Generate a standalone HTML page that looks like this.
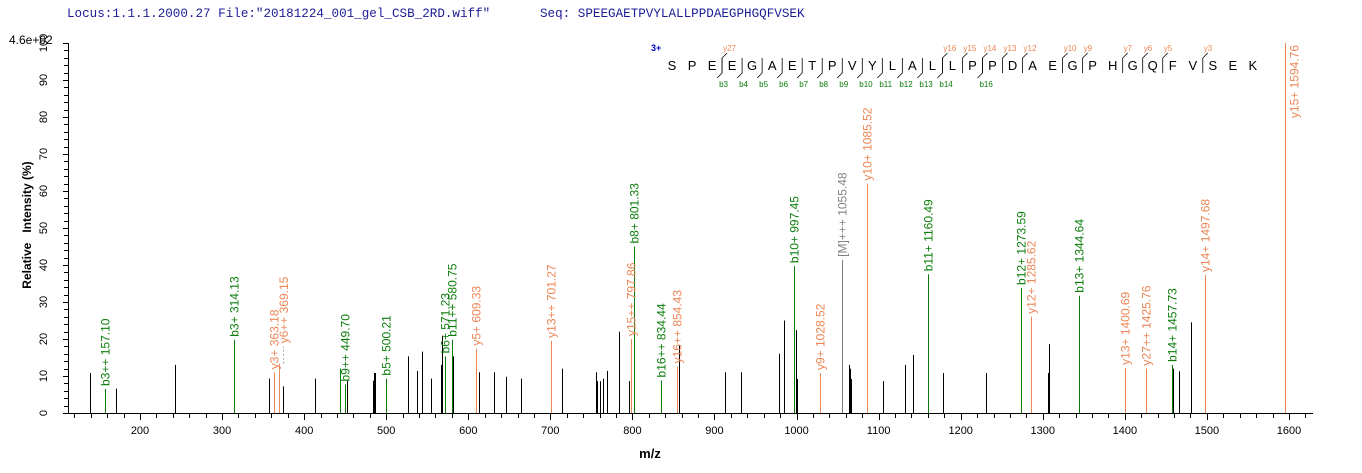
<!DOCTYPE html>
<html><head><meta charset="utf-8"><style>
html,body{margin:0;padding:0;background:#fff;}
svg{display:block;font-family:"Liberation Sans",Arial,sans-serif;}
</style></head><body>
<svg id="s" width="1362" height="473" xmlns="http://www.w3.org/2000/svg">
<text x="67" y="17" font-family="Liberation Mono,monospace" font-size="12.6" fill="#1c1c96">Locus:1.1.1.2000.27 File:"20181224_001_gel_CSB_2RD.wiff"</text>
<text x="540" y="17" font-family="Liberation Mono,monospace" font-size="12.6" fill="#1c1c96">Seq: SPEEGAETPVYLALLPPDAEGPHGQFVSEK</text>
<text x="9" y="44" font-size="12" fill="#000">4.6e+02</text>
<text transform="translate(31,225) rotate(-90)" text-anchor="middle" font-size="12" font-weight="bold" style="white-space:pre">Relative   Intensity (%)</text>
<text x="650" y="458" text-anchor="middle" font-size="13" font-weight="bold">m/z</text>
<g id="axes" stroke="#000" stroke-width="1" fill="none"></g>
<g id="peaks"></g>
<g id="seq"></g>
</svg>
<script>
var NS="http://www.w3.org/2000/svg",S=document.getElementById('s');
function el(t,a,p,txt){var e=document.createElementNS(NS,t);for(var k in a)e.setAttribute(k,a[k]);if(txt!==undefined)e.textContent=txt;(p||S).appendChild(e);return e;}
var ax=document.getElementById('axes'),pk=document.getElementById('peaks'),sq=document.getElementById('seq');
function X(m){return 140+(m-200)*0.8207;}
function Y(p){return 413-p*3.7;}
el('line',{x1:63,y1:413.5,x2:1313,y2:413.5},ax);
el('line',{x1:68.5,y1:43,x2:68.5,y2:413},ax);
for(var m=120;m<=1620;m+=20){var x=Math.round(X(m))+0.5;el('line',{x1:x,y1:413,x2:x,y2:(m%100==0?420:418)},ax);}
for(var m=200;m<=1600;m+=100){el('text',{x:X(m),y:434,'text-anchor':'middle','font-size':11,fill:'#000'},S,''+m);}
for(var p=0;p<=100;p+=2){var y=Math.round(Y(p))+0.5;el('line',{x1:(p%10==0?63:64),y1:y,x2:68,y2:y},ax);}
for(var p=0;p<=100;p+=10){el('text',{transform:'translate(47,'+Y(p)+') rotate(-90)','text-anchor':'middle','font-size':11,fill:'#000'},S,''+p);}
var blk=[[90,10.8],[116,6.6],[175,13],[269,9.3],[283,7.2],[315,9.3],[347,8.7],[373,8.7],[374,10.8],[375,10.8],[408,15.3],[417,11.4],[422,16.6],[431,9.3],[441,13],[442,20.9],[445,10.8],[453,15.3],[479,11],[494,11],[506,9.8],[521,9.3],[562,12],[596,11],[597,8.6],[600,8.6],[603,9.3],[607,11.4],[619,22],[629,8.6],[679,18.2],[725,11],[741,11],[779,16],[784,25],[796,22.4],[797,9.2],[849,13],[850,12],[851,9.2],[883,8.6],[905,13],[913,15.7],[928,17.6],[943,10.8],[986,10.8],[1048,10.8],[1049,18.6],[1173,12],[1179,11.3],[1191,24.5]];
blk.forEach(function(b){var x=b[0]+0.5;el('line',{x1:x,y1:413,x2:x,y2:Y(b[1]),stroke:'#000','stroke-width':1},pk);});
var G='#0a7d0a',O='#ec8555',GR='#808080';
var lab=[[157.10,6.5,G,'b3++ 157.10'],[314.13,19.8,G,'b3+ 314.13'],[443.18,12,G,''],[449.70,7.7,G,'b9++ 449.70'],[500.21,9.3,G,'b5+ 500.21'],[571.23,15.3,G,'b6+ 571.23'],[580.75,19.8,G,'b11++ 580.75'],[801.33,45,G,'b8+ 801.33'],[834.44,8.8,G,'b16++ 834.44'],[997.45,39.7,G,'b10+ 997.45'],[1160.49,37.5,G,'b11+ 1160.49'],[1273.59,33.8,G,'b12+ 1273.59'],[1344.64,31.7,G,'b13+ 1344.64'],[1457.73,13,G,'b14+ 1457.73'],
[363.18,11,O,'y3+ 363.18'],[369.15,13.3,O,''],[609.33,17.4,O,'y5+ 609.33'],[701.27,19.5,O,'y13++ 701.27'],[797.86,20,O,'y15++ 797.86'],[854.43,12.6,O,'y16++ 854.43'],[1028.52,10.8,O,'y9+ 1028.52'],[1085.52,62,O,'y10+ 1085.52'],[1285.62,26,O,'y12+ 1285.62'],[1400.69,12.2,O,'y13+ 1400.69'],[1425.76,12,O,'y27++ 1425.76'],[1497.68,37.3,O,'y14+ 1497.68'],[1055.48,41.4,GR,'[M]+++ 1055.48']];
lab.forEach(function(l){var x=Math.round(X(l[0]))+0.5,y=Y(l[1]);
 el('line',{x1:x,y1:413,x2:x,y2:y,stroke:l[2],'stroke-width':1},pk);
 if(l[3])el('text',{transform:'translate('+(x+4)+','+(y-3)+') rotate(-90)','font-size':12,fill:l[2]},pk,l[3]);});
el('line',{x1:283.5,y1:Y(13.3),x2:283.5,y2:Y(18),stroke:'#aaa','stroke-dasharray':'2,2'},pk);
el('text',{transform:'translate(288,'+(Y(18)-3)+') rotate(-90)','font-size':12,fill:O},pk,'y6++ 369.15');
var x15=Math.round(X(1594.76))+0.5;
el('line',{x1:x15,y1:413,x2:x15,y2:Y(100),stroke:O},pk);
el('text',{transform:'translate('+(x15+13)+',45) rotate(-90)','font-size':12,fill:O,'text-anchor':'end'},pk,'y15+ 1594.76');
var seq='SPEEGAETPVYLALLPPDAEGPHGQFVSEK';
el('text',{x:651,y:51,'font-size':9,'font-weight':'bold',fill:'#0000cc'},sq,'3+');
for(var i=0;i<seq.length;i++){el('text',{x:672+i*20.03,y:70,'font-size':13,'text-anchor':'middle',fill:'#000'},sq,seq[i]);}
function gx(k){return 672+(k-0.5)*20.03;}
var bs=[3,4,5,6,7,8,9,10,11,12,13,14,16];
bs.forEach(function(k){var x=gx(k);el('path',{d:'M'+x+' 58 L'+x+' 73 L'+(x-5)+' 78',stroke:'#000',fill:'none','stroke-width':0.8},sq);
 el('text',{x:x-3,y:87,'font-size':8,fill:G},sq,'b'+k);});
var ys=[[3,27],[14,16],[15,15],[16,14],[17,13],[18,12],[20,10],[21,9],[23,7],[24,6],[25,5],[27,3]];
ys.forEach(function(a){var x=gx(a[0]);el('path',{d:'M'+x+' 73 L'+x+' 58 L'+(x+5)+' 53',stroke:'#000',fill:'none','stroke-width':0.8},sq);
 el('text',{x:x+1,y:51,'font-size':8,fill:O},sq,'y'+a[1]);});
</script>
</body></html>
